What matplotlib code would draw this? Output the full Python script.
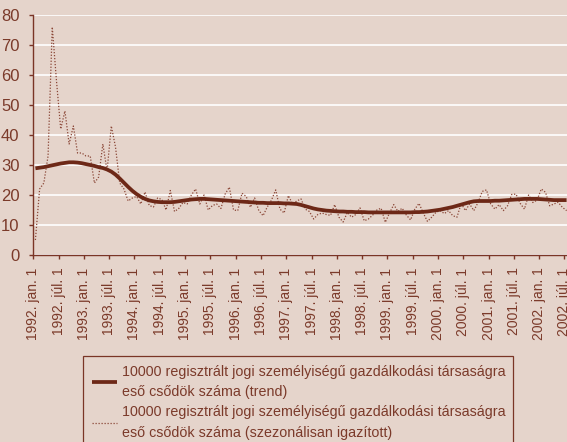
import numpy as np
import matplotlib
matplotlib.use("Agg")
import matplotlib.pyplot as plt
from matplotlib.transforms import ScaledTranslation

plt.rcParams['font.family'] = ['Liberation Sans', 'DejaVu Sans']

# monthly data, 1992 jan -> 2002 jul
trend = [28.9, 29.1, 29.3, 29.6, 29.9, 30.2, 30.5, 30.7, 30.9,
         30.9, 30.8, 30.6, 30.3, 30.0, 29.7, 29.3, 29.0, 28.5,
         27.8, 26.8, 25.5, 24.1, 22.7, 21.4, 20.3, 19.4, 18.7, 18.2, 17.9, 17.7, 17.6,
         17.6, 17.6, 17.7, 17.9, 18.1, 18.3, 18.5, 18.6, 18.7, 18.7,
         18.6, 18.5, 18.4, 18.3, 18.2, 18.1, 18.0, 17.9, 17.8, 17.7, 17.6, 17.5,
         17.4, 17.4, 17.3, 17.3, 17.3, 17.3, 17.2, 17.2, 17.1, 17.0,
         16.7, 16.3, 15.9, 15.5, 15.2, 15.0, 14.8, 14.7, 14.6, 14.5,
         14.5, 14.4, 14.4, 14.3, 14.3, 14.3, 14.2, 14.2, 14.2, 14.2,
         14.2, 14.2, 14.2, 14.2, 14.2, 14.2, 14.2, 14.3, 14.3, 14.4,
         14.5, 14.7, 14.9, 15.1, 15.4, 15.7, 16.0, 16.4, 16.8, 17.2, 17.6, 17.9,
         18.0, 18.0, 18.0, 18.0, 18.1, 18.1, 18.2, 18.3, 18.4, 18.5, 18.6,
         18.7, 18.7, 18.7, 18.7, 18.6, 18.5, 18.4, 18.3, 18.3, 18.3, 18.3]

adjusted = [5, 22, 24, 33, 76, 58, 42, 48, 37, 43, 34, 34,
            33, 33, 24, 26, 37, 28, 43, 36, 24, 22, 18, 19,
            19.5, 17, 21, 16.5, 16, 19, 18.5, 15, 21.5, 14.5, 15.5, 17.5,
            17, 20, 22, 17, 20, 15, 16.5, 17, 15.5, 20.3, 22.6, 15,
            14.8, 20.6, 19.5, 15.9, 19, 14.8, 13.1, 16, 18.3, 21.7, 15.3, 14,
            19.8, 17, 18, 18.7, 15.3, 14.5, 12, 13.5, 14, 13.5, 13.2, 16.8,
            12.6, 11, 14.2, 12.6, 13.5, 15.7, 11.4, 12, 13.3, 15, 15.6, 10.9,
            14, 16.8, 14.5, 15.6, 13.3, 11.7, 15.3, 17.2, 14, 11.2, 12.6, 14.2,
            14.8, 13.8, 14.8, 13.1, 12.6, 17.2, 14.8, 17, 14.8, 17.5, 21.2, 21.7,
            17, 15.3, 16.8, 14.8, 16.4, 20.2, 20.3, 17.2, 15.3, 20, 17.5, 18.3,
            22, 20.9, 16.4, 17, 17.6, 15.9, 14.8]

years = list(range(1992, 2003))
tick_labels = []
for y in years:
    tick_labels += [f"{y}. jan. 1", f"{y}. júl. 1"]

label_trend = "10000 regisztrált jogi személyiségű gazdálkodási társaságra\neső csődök száma (trend)"
label_adj = "10000 regisztrált jogi személyiségű gazdálkodási társaságra\neső csődök száma (szezonálisan igazított)"

bg = '#e5d4cb'
brown = '#7a3526'
text_col = '#7b3a2a'

fig = plt.figure(figsize=(5.67, 4.42), dpi=100, facecolor=bg)
ax = fig.add_axes([33.3 / 567, 1 - 255 / 442, 1 - 33.3 / 567, 240 / 442])
ax.set_facecolor(bg)

months = np.arange(len(trend))
ax.plot(months, trend, color='#6d2817', lw=2.7, solid_capstyle='butt', zorder=3, label=label_trend)
ax.plot(months, adjusted, color='#8a4636', lw=0.9, linestyle=(0, (1, 1.4)), zorder=2, label=label_adj)

ax.set_ylim(0, 80)
ax.set_yticks(range(0, 81, 10))
ax.set_xlim(-0.5, 126.1)
ax.set_xticks(np.arange(len(tick_labels)) * 6 - 0.5)
ax.set_xticklabels(tick_labels, rotation=90, va='top', ha='center', fontsize=10)
for lab in ax.get_xticklabels():
    lab.set_transform(lab.get_transform() + ScaledTranslation(-4 / 100, 0, fig.dpi_scale_trans))

ax.grid(axis='y', color='white', lw=1.2)
ax.set_axisbelow(True)
for s in ['top', 'right']:
    ax.spines[s].set_visible(False)
for s in ['left', 'bottom']:
    ax.spines[s].set_color(brown)
    ax.spines[s].set_linewidth(1.0)
ax.tick_params(axis='both', colors=brown, labelcolor=text_col,
               length=3, width=1.0, direction='out')
ax.tick_params(axis='y', pad=7, labelsize=12)
ax.tick_params(axis='x', pad=6)

leg = fig.legend(loc='upper left', bbox_to_anchor=(83 / 567, 0.0, (513 - 83) / 567, 1 - 356 / 442),
                 mode='expand', borderaxespad=0, fontsize=10.3, frameon=True, fancybox=False,
                 facecolor=bg, edgecolor=brown, framealpha=1, handlelength=1.75,
                 handletextpad=0.35, borderpad=0.6, labelspacing=0.4)
leg.get_frame().set_linewidth(0.9)
for t in leg.get_texts():
    t.set_color(text_col)
    t.set_linespacing(1.6)

fig.savefig('out.png', dpi=100, facecolor=bg)
